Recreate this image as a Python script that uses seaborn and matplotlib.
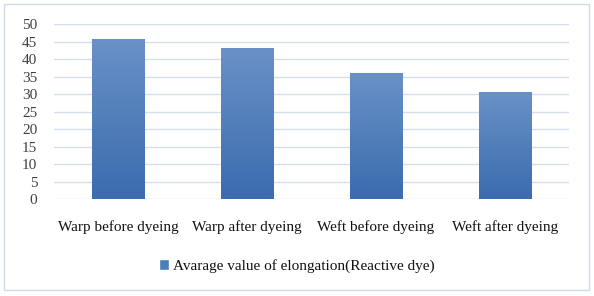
import numpy as np
import pandas as pd
import matplotlib
matplotlib.use("Agg")
import matplotlib.pyplot as plt
import seaborn as sns
from matplotlib.patches import Rectangle, Patch
from matplotlib.colors import LinearSegmentedColormap

# data
categories = ["Warp before dyeing", "Warp after dyeing", "Weft before dyeing", "Weft after dyeing"]
elongation = [45.9, 43.2, 36.0, 30.7]
series_name = "Avarage value of elongation(Reactive dye)"

df = pd.DataFrame({"category": categories, "value": elongation})

sns.set_theme(style="white")
plt.rcParams["font.family"] = ["Liberation Serif", "DejaVu Serif"]

fig = plt.figure(figsize=(5.94, 2.96), dpi=100)
ax = fig.add_axes([54 / 594, 1 - 199 / 296, (569 - 54) / 594, (199 - 24.3) / 296])

sns.barplot(data=df, x="category", y="value", color="#4a7ebd", width=0.405,
            ax=ax, zorder=3)

# gradient fill like the office chart
grad = LinearSegmentedColormap.from_list("g", ["#3a6cae", "#6a91c7"])
for bar in ax.patches:
    x0, w, h = bar.get_x(), bar.get_width(), bar.get_height()
    img = ax.imshow(np.linspace(0, 1, 256).reshape(-1, 1), cmap=grad, aspect="auto",
                    origin="lower", extent=[x0, x0 + w, 0, h], zorder=4)
    img.set_clip_path(bar)
    bar.set_edgecolor("none")

ax.set_xlim(-0.5, 3.5)
ax.set_ylim(0, 50)
ax.set_yticks(range(0, 51, 5))
ax.yaxis.grid(True, color="#d5dfec", linewidth=1)
ax.set_axisbelow(True)
for s in ax.spines.values():
    s.set_visible(False)
ax.set_xlabel("")
ax.set_ylabel("")
ax.tick_params(axis="y", labelsize=11, labelcolor="#404040", pad=12, length=0)
ax.tick_params(axis="x", labelsize=11, labelcolor="#111111", pad=15, length=0)

leg = fig.legend(handles=[Patch(facecolor="#4a7ebd", label=series_name)],
                 loc="center", bbox_to_anchor=(0.5, 1 - 266 / 296), frameon=False,
                 fontsize=11, handlelength=0.65, handleheight=0.65, handletextpad=0.3)
for t in leg.get_texts():
    t.set_color("#111111")

fig.patches.append(Rectangle((4 / 594, 6 / 296), 585 / 594, 286 / 296,
                             transform=fig.transFigure, fill=False,
                             edgecolor="#d0dbe8", linewidth=1))

fig.savefig("out.png", dpi=100)
